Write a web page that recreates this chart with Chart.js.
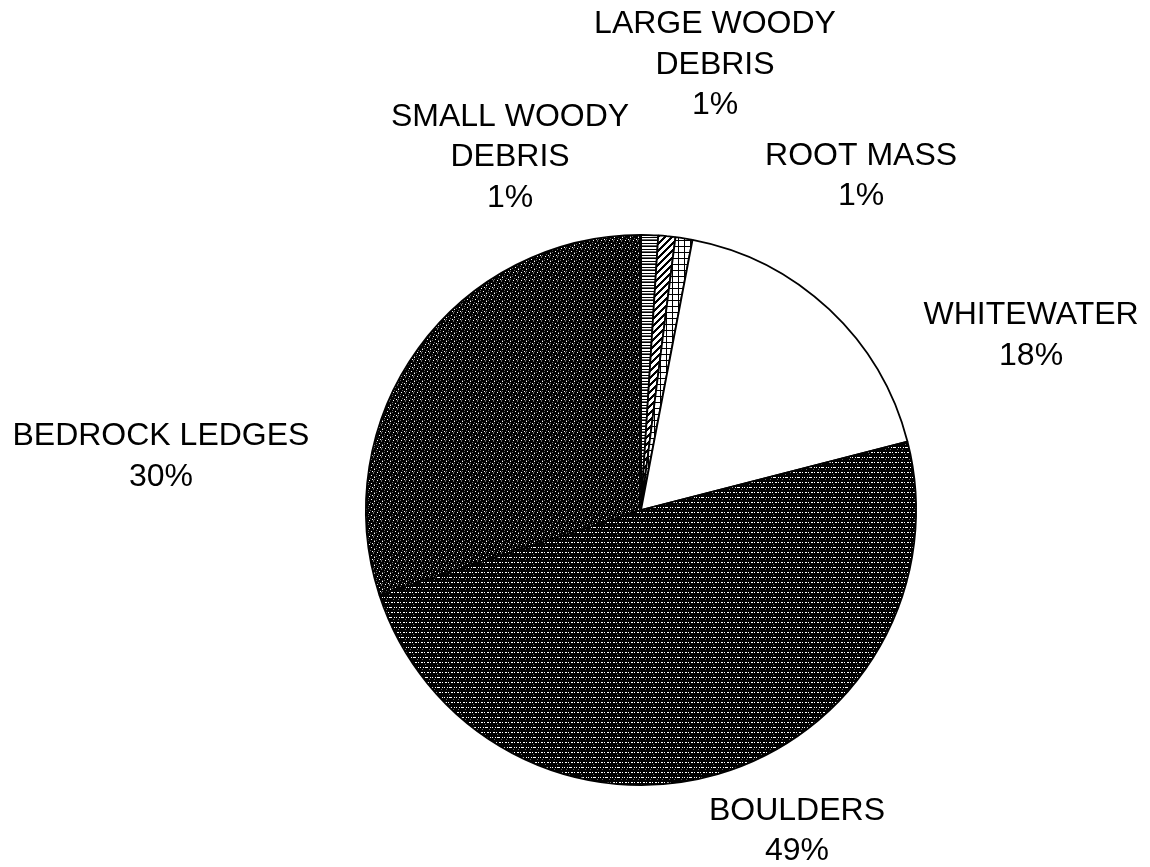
<!DOCTYPE html>
<html>
<head>
<meta charset="utf-8">
<title>Cover types</title>
<script src="https://cdn.jsdelivr.net/npm/chart.js@4.4.1/dist/chart.umd.min.js"></script>
<style>
  html, body { margin: 0; padding: 0; background: #fff; }
  #wrap { width: 1150px; height: 867px; }
</style>
</head>
<body>
<div id="wrap"><canvas id="coverChart" width="1150" height="867"></canvas></div>
<script>
// cover types, clockwise from 12 o'clock
const categories = [
  ['SMALL WOODY', 'DEBRIS'],
  ['LARGE WOODY', 'DEBRIS'],
  ['ROOT MASS'],
  ['WHITEWATER'],
  ['BOULDERS'],
  ['BEDROCK LEDGES']
];
const percents = [1, 1, 1, 18, 49, 30];

// where each label block sits, in radius units from the pie centre
const labelOffsets = [
  [-0.476, -1.282],
  [0.269, -1.618],
  [0.80, -1.213],
  [1.418, -0.633],
  [0.567, 1.167],
  [-1.745, -0.193]
];

// small bitmap fills, rows of '#' (black), '+' (grey) and '.' (white)
function makePattern(rows) {
  const c = document.createElement('canvas');
  c.width = rows[0].length;
  c.height = rows.length;
  const g = c.getContext('2d');
  rows.forEach((row, y) => {
    for (let x = 0; x < row.length; x++) {
      const ch = row[x];
      g.fillStyle = ch === '#' ? '#000' : ch === '+' ? '#666' : '#fff';
      g.fillRect(x, y, 1, 1);
    }
  });
  return g.createPattern(c, 'repeat');
}

const ctx = document.getElementById('coverChart').getContext('2d');

const fills = [
  // horizontal stripes
  makePattern(['#', '.', '.', '#', '.', '+']),
  // diagonal stripes
  makePattern([
    '....###',
    '...###.',
    '..###..',
    '.###...',
    '###....',
    '##....#',
    '#....##'
  ]),
  // grid
  makePattern([
    '######',
    '#.....',
    '#.....',
    '#.....',
    '#.....',
    '#.....'
  ]),
  '#ffffff',
  // near black with broken white rows
  makePattern([
    '############',
    '############',
    '#..#.##..#.#',
    '############',
    '#####+######',
    '############',
    '############',
    '.##.#...##.#',
    '############',
    '##+######+##'
  ]),
  // dark speckle
  makePattern([
    '#.###+##',
    '#####+##',
    '+#######',
    '###.####',
    '+#####+#',
    '######.#',
    '##+#####',
    '####.#+#'
  ])
];

const pieLabels = {
  id: 'pieLabels',
  afterDatasetsDraw(chart) {
    const meta = chart.getDatasetMeta(0);
    const g = chart.ctx;
    const lineH = 40.5;
    g.save();
    g.font = '32px "Liberation Sans", Arial, sans-serif';
    g.fillStyle = '#000';
    g.textAlign = 'center';
    g.textBaseline = 'middle';
    meta.data.forEach((arc, i) => {
      const lines = categories[i].concat([percents[i] + '%']);
      const cx = arc.x + labelOffsets[i][0] * arc.outerRadius;
      const cy = arc.y + labelOffsets[i][1] * arc.outerRadius;
      lines.forEach((t, k) => {
        g.fillText(t, cx, cy + (k - (lines.length - 1) / 2) * lineH);
      });
    });
    g.restore();
  }
};

new Chart(ctx, {
  type: 'pie',
  data: {
    labels: categories,
    datasets: [{
      data: percents,
      backgroundColor: fills,
      borderColor: '#000',
      borderWidth: 1.8
    }]
  },
  options: {
    responsive: false,
    animation: false,
    layout: {
      padding: { top: 234, bottom: 81, left: 132, right: 0 }
    },
    plugins: {
      legend: { display: false },
      tooltip: { enabled: false }
    }
  },
  plugins: [pieLabels]
});
</script>
</body>
</html>
